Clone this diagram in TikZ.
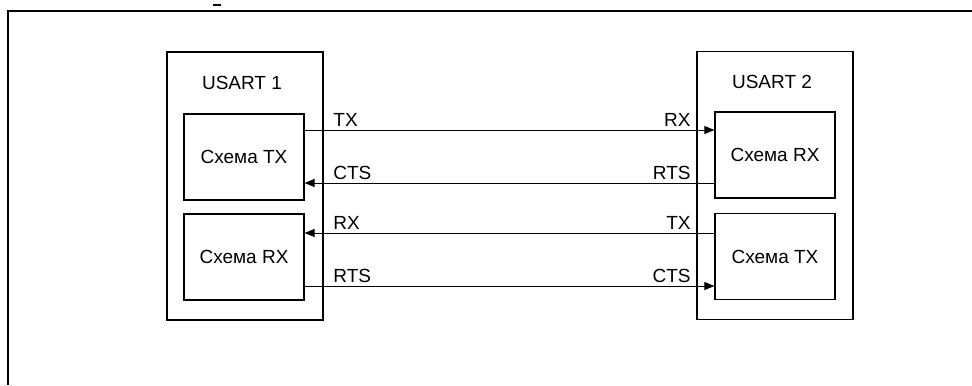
\documentclass[tikz,border=0pt]{standalone}
\usepackage{fontspec}
\setmainfont{Liberation Sans}
\usetikzlibrary{arrows.meta}
\begin{document}
\begin{tikzpicture}[x=0.5pt, y=-0.5pt,
        font=\fontsize{9.5}{11}\selectfont,
        usart/.style={draw, line width=0.6pt, inner sep=0pt, minimum width=78pt, minimum height=134pt},
        blk/.style={draw, line width=0.6pt, inner sep=0pt, minimum width=60pt, minimum height=43pt},
        sig/.style={line width=0.5pt, -{Triangle[length=5pt, width=4pt]}},
        lbl/.style={inner sep=1pt}
    ]
        \useasboundingbox (0,0) rectangle (972,385);
        \draw[line width=0.6pt] (8,385) -- (8,11) -- (972,11);% frame
        \draw[line width=1.2pt] (213,5) -- (221,5);

        \node[usart] (u1) at (245,186) {};
        \node[usart] (u2) at (775,185.5) {};
        \node (n1) at (242,83) {USART 1};
        \node (n2) at (772,82) {USART 2};

        \node[blk] (tx1) at (244,157) {Схема TX};
        \node[blk] (rx1) at (244,257) {Схема RX};
        \node[blk] (rx2) at (775,155) {Схема RX};
        \node[blk] (tx2) at (775,256.5) {\raisebox{-3pt}{Схема TX}};

        \coordinate (s1) at (0,130);
        \coordinate (s2) at (0,183);
        \coordinate (s3) at (0,233);
        \coordinate (s4) at (0,286);

        \draw[sig] (tx1.east |- s1) -- (rx2.west |- s1);
        \draw[sig] (rx2.west |- s2) -- (tx1.east |- s2);
        \draw[sig] (tx2.west |- s3) -- (rx1.east |- s3);
        \draw[sig] (rx1.east |- s4) -- (tx2.west |- s4);

        \node[lbl, anchor=south west] (l1) at (331,129) {TX};
        \node[lbl, anchor=south west] (l2) at (331,182) {CTS};
        \node[lbl, anchor=south west] (l3) at (331,232) {RX};
        \node[lbl, anchor=south west] (l4) at (331,285) {RTS};
        \node[lbl, anchor=south east] (r1) at (693,129) {RX};
        \node[lbl, anchor=south east] (r2) at (693,182) {RTS};
        \node[lbl, anchor=south east] (r3) at (693,232) {TX};
        \node[lbl, anchor=south east] (r4) at (693,285) {CTS};
    \end{tikzpicture}
\end{document}
